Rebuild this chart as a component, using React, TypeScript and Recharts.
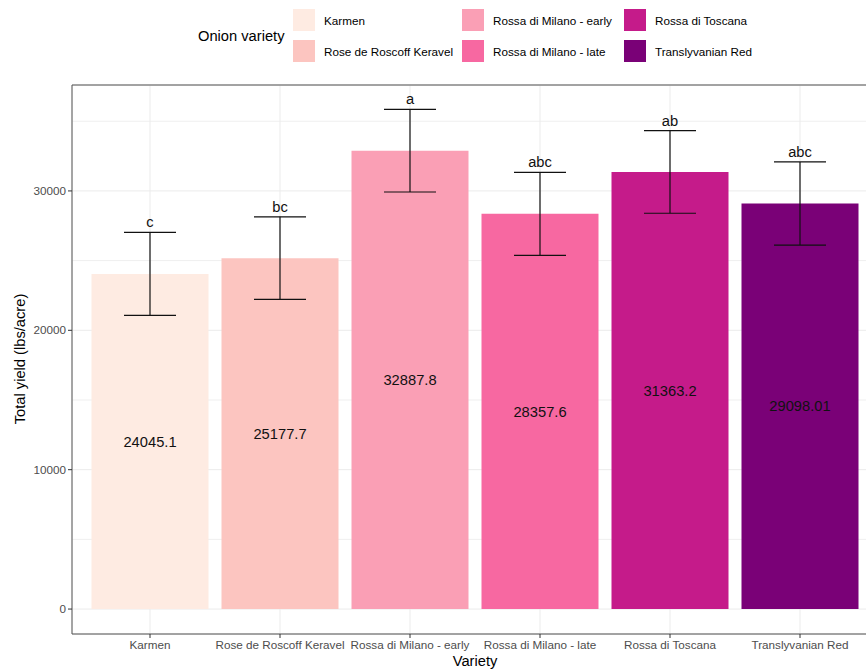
import React from 'react';
import {
  ComposedChart,
  Bar,
  Line,
  XAxis,
  YAxis,
  CartesianGrid,
  ErrorBar,
  LabelList,
  ReferenceLine,
  Cell,
} from 'recharts';

const varieties = [
  'Karmen',
  'Rose de Roscoff Keravel',
  'Rossa di Milano - early',
  'Rossa di Milano - late',
  'Rossa di Toscana',
  'Translyvanian Red',
];
const yieldMeans = [24045.1, 25177.7, 32887.8, 28357.6, 31363.2, 29098.01];
const yieldSE = [2980, 2965, 2965, 2975, 2965, 2980];
const groupLetters = ['c', 'bc', 'a', 'abc', 'ab', 'abc'];
const varietyColors = ['#FEEBE2', '#FCC5C0', '#FA9FB5', '#F768A1', '#C51B8A', '#7A0177'];
const yTicks = [0, 10000, 20000, 30000];
const yMinorTicks = [5000, 15000, 25000, 35000];
const yDomain = [-1790, 37600];

const data = varieties.map((v, i) => ({
  variety: v,
  mean: yieldMeans[i],
  err: yieldSE[i],
  upper: yieldMeans[i] + yieldSE[i],
  letter: groupLetters[i],
}));

const FONT = '"Liberation Sans", Arial, Helvetica, sans-serif';

function LegendBox() {
  return (
    <div style={{ position: 'absolute', left: 198, top: 9, display: 'flex', alignItems: 'center' }}>
      <div style={{ fontSize: 14.7, color: '#000', width: 95 }}>Onion variety</div>
      <div
        style={{
          display: 'grid',
          gridAutoFlow: 'column',
          gridTemplateRows: '22px 22px',
          gridTemplateColumns: '169px 162px auto',
          rowGap: 9,
        }}
      >
        {varieties.map((v, i) => (
          <div key={v} style={{ display: 'flex', alignItems: 'center' }}>
            <div style={{ width: 22, height: 22, background: varietyColors[i] }} />
            <span style={{ marginLeft: 9, fontSize: 11.7, color: '#000', whiteSpace: 'nowrap' }}>{v}</span>
          </div>
        ))}
      </div>
    </div>
  );
}

export default function App() {
  return (
    <div
      style={{
        position: 'fixed',
        left: 0,
        top: 0,
        width: 866,
        height: 671,
        overflow: 'hidden',
        background: '#fff',
        fontFamily: FONT,
      }}
    >
      <LegendBox />
      <ComposedChart
        width={880}
        height={671}
        data={data}
        margin={{ top: 85, right: 2, bottom: 0, left: 0 }}
        barCategoryGap="5%"
      >
        {/* minor grid on a hidden axis with the same domain */}
        <CartesianGrid stroke="#EFEFEF" yAxisId="minor" vertical={false} />
        <CartesianGrid stroke="#EBEBEB" />
        <XAxis
          dataKey="variety"
          interval={0}
          padding={{ left: 13, right: 13 }}
          height={37}
          tickSize={4}
          tickMargin={3}
          tick={{ fontSize: 11.7, fill: '#4D4D4D' }}
          tickLine={{ stroke: '#333' }}
          axisLine={{ stroke: '#555' }}
        />
        <YAxis
          type="number"
          domain={yDomain}
          ticks={yTicks}
          allowDataOverflow
          width={72}
          tickSize={4}
          tickMargin={2}
          tick={{ fontSize: 11.7, fill: '#4D4D4D' }}
          tickLine={{ stroke: '#333' }}
          axisLine={{ stroke: '#555' }}
        />
        <YAxis
          yAxisId="minor"
          type="number"
          domain={yDomain}
          ticks={yMinorTicks}
          allowDataOverflow
          hide
        />
        <ReferenceLine y={yDomain[1]} stroke="#555" />
        <Bar dataKey="mean" isAnimationActive={false}>
          {data.map((d, i) => (
            <Cell key={d.variety} fill={varietyColors[i]} />
          ))}
          <ErrorBar dataKey="err" width={26} stroke="#111" strokeWidth={1.2} direction="y" />
          <LabelList dataKey="mean" position="center" fill="#111" fontSize={14.7} />
        </Bar>
        <Line
          dataKey="upper"
          stroke="none"
          dot={false}
          activeDot={false}
          legendType="none"
          isAnimationActive={false}
        >
          <LabelList dataKey="letter" position="top" offset={5} fill="#111" fontSize={14.7} />
        </Line>
      </ComposedChart>
      <div
        style={{
          position: 'absolute',
          left: 20,
          top: 359,
          transform: 'translate(-50%, -50%) rotate(-90deg)',
          fontSize: 14.7,
          whiteSpace: 'nowrap',
          color: '#000',
        }}
      >
        Total yield (lbs/acre)
      </div>
      <div
        style={{
          position: 'absolute',
          left: 475,
          top: 661,
          transform: 'translate(-50%, -50%)',
          fontSize: 14.7,
          whiteSpace: 'nowrap',
          color: '#000',
        }}
      >
        Variety
      </div>
    </div>
  );
}
